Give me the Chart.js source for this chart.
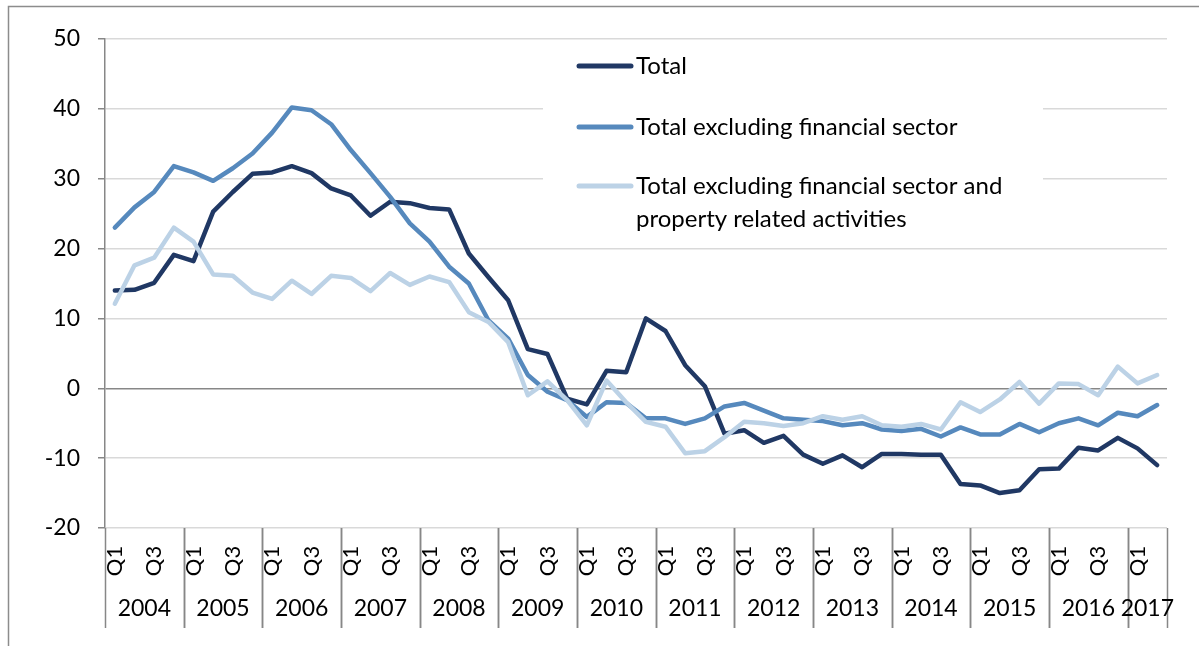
<!DOCTYPE html>
<html>
<head>
<meta charset="utf-8">
<title>Credit growth</title>
<script src="https://cdn.jsdelivr.net/npm/chart.js@4/dist/chart.umd.min.js"></script>
<style>
  html, body { margin: 0; padding: 0; background: #fff; }
  #wrap { width: 1199px; height: 646px; position: relative; }
</style>
</head>
<body>
<div id="wrap"><canvas id="chart" width="1199" height="646"></canvas></div>
<script>
// quarterly series, 2004 Q1 - 2017 Q2
const years = [2004, 2005, 2006, 2007, 2008, 2009, 2010, 2011, 2012, 2013, 2014, 2015, 2016, 2017];
const quarters = ['Q1', 'Q2', 'Q3', 'Q4'];
const shownQuarters = ['Q1', 'Q3'];
const seriesNames = [
  'Total',
  'Total excluding financial sector',
  'Total excluding financial sector and property related activities'
];
const total = [14.0, 14.1, 15.1, 19.1, 18.2, 25.3, 28.1, 30.7, 30.9, 31.8, 30.8, 28.6, 27.6, 24.7,
  26.7, 26.5, 25.8, 25.6, 19.3, 15.9, 12.6, 5.6, 4.9, -1.5, -2.3, 2.5, 2.3, 10.0, 8.2, 3.3, 0.3,
  -6.5, -6.0, -7.8, -6.8, -9.5, -10.8, -9.6, -11.3, -9.4, -9.4, -9.5, -9.5, -13.7, -13.9, -15.0,
  -14.6, -11.6, -11.5, -8.5, -8.9, -7.1, -8.6, -11.0];
const exFinancial = [23.0, 25.9, 28.1, 31.8, 30.9, 29.7, 31.5, 33.6, 36.6, 40.2, 39.8, 37.8, 34.1,
  30.8, 27.4, 23.6, 21.0, 17.4, 15.0, 9.7, 7.1, 1.9, -0.5, -1.7, -4.1, -2.0, -2.1, -4.3, -4.3,
  -5.1, -4.3, -2.6, -2.1, -3.2, -4.3, -4.5, -4.7, -5.3, -5.0, -5.9, -6.1, -5.8, -6.9, -5.6, -6.6,
  -6.6, -5.1, -6.3, -5.0, -4.3, -5.3, -3.5, -4.0, -2.4];
const exFinProperty = [12.1, 17.6, 18.7, 23.0, 21.0, 16.3, 16.1, 13.7, 12.8, 15.4, 13.5, 16.1, 15.8,
  13.9, 16.5, 14.8, 16.0, 15.2, 10.9, 9.5, 6.6, -1.0, 1.0, -1.7, -5.3, 1.1, -2.0, -4.8, -5.5, -9.3,
  -9.0, -7.0, -4.8, -5.0, -5.4, -5.0, -4.0, -4.5, -4.0, -5.3, -5.5, -5.1, -5.9, -2.0, -3.4, -1.6,
  0.9, -2.2, 0.7, 0.6, -1.0, 3.1, 0.7, 1.9];
const colors = ['#203864', '#5689bd', '#bcd2e6'];
const yMin = -20, yMax = 50, yStep = 10;

const FONT = 'Lato, "Open Sans", sans-serif';
const AXIS_GREY = '#878787';
const GRID_GREY = '#d9d9d9';

// one label per quarter
const labels = [];
years.forEach(y => quarters.forEach(q => {
  if (labels.length < total.length) labels.push({ year: y, q: q });
}));

// frame around the whole chart
const framePlugin = {
  id: 'frame',
  beforeDraw(chart) {
    const ctx = chart.ctx;
    ctx.save();
    ctx.fillStyle = '#fff';
    ctx.fillRect(0, 0, chart.width, chart.height);
    ctx.strokeStyle = '#8c8c8c';
    ctx.lineWidth = 1.5;
    ctx.strokeRect(8.5, 6.5, chart.width + 20, chart.height + 20);
    ctx.restore();
  }
};

// two-level category axis: quarters (rotated) and years with separators
const yearAxisPlugin = {
  id: 'yearAxis',
  afterDraw(chart) {
    const ctx = chart.ctx;
    const x = chart.scales.x;
    const bottom = chart.chartArea.bottom;
    const half = (x.getPixelForValue(1) - x.getPixelForValue(0)) / 2;
    ctx.save();

    // quarter labels
    ctx.fillStyle = '#000';
    ctx.font = '22px ' + FONT;
    ctx.textAlign = 'center';
    ctx.textBaseline = 'middle';
    labels.forEach((l, i) => {
      if (!shownQuarters.includes(l.q)) return;
      const px = x.getPixelForValue(i);
      ctx.save();
      ctx.translate(px, bottom + 33);
      ctx.rotate(-Math.PI / 2);
      ctx.fillText(l.q, 0, 0);
      ctx.restore();
    });

    // year separators and labels
    ctx.strokeStyle = AXIS_GREY;
    ctx.lineWidth = 1.5;
    ctx.font = '23px ' + FONT;
    years.forEach(y => {
      const idx = labels.map((l, i) => l.year === y ? i : -1).filter(i => i >= 0);
      if (!idx.length) return;
      const x0 = x.getPixelForValue(idx[0]) - half;
      const x1 = x.getPixelForValue(idx[idx.length - 1]) + half;
      [x0, x1].forEach(sx => {
        ctx.beginPath();
        ctx.moveTo(Math.round(sx) + 0.5, bottom);
        ctx.lineTo(Math.round(sx) + 0.5, bottom + 100);
        ctx.stroke();
      });
      ctx.fillText(String(y), (x0 + x1) / 2, bottom + 81);
    });
    ctx.restore();
  }
};

// legend box sitting over the grid
const legendPlugin = {
  id: 'boxLegend',
  beforeDatasetsDraw(chart) {
    const ctx = chart.ctx;
    ctx.save();
    ctx.fillStyle = '#fff';
    ctx.fillRect(543, 46, 500, 196);
    ctx.font = '24px ' + FONT;
    ctx.textBaseline = 'middle';
    ctx.lineCap = 'round';
    const rows = [66, 127, 186];
    seriesNames.forEach((name, i) => {
      ctx.strokeStyle = colors[i];
      ctx.lineWidth = 5;
      ctx.beginPath();
      ctx.moveTo(579, rows[i]);
      ctx.lineTo(631, rows[i]);
      ctx.stroke();
      ctx.fillStyle = '#000';
      if (i === 2) {
        ctx.fillText('Total excluding financial sector and', 636, rows[i]);
        ctx.fillText('property related activities', 636, rows[i] + 33);
      } else {
        ctx.fillText(name, 636, rows[i]);
      }
    });
    ctx.restore();
  }
};

const series = [total, exFinancial, exFinProperty];

new Chart(document.getElementById('chart'), {
  type: 'line',
  data: {
    labels: labels.map(l => l.year + ' ' + l.q),
    datasets: series.map((d, i) => ({
      label: seriesNames[i],
      data: d,
      borderColor: colors[i],
      backgroundColor: colors[i],
      borderWidth: 4.5,
      pointRadius: 0,
      tension: 0,
      borderJoinStyle: 'round',
      borderCapStyle: 'round',
      order: 3 - i
    }))
  },
  options: {
    responsive: false,
    animation: false,
    layout: { padding: { top: 39, right: 32, left: 0, bottom: 0 } },
    plugins: {
      legend: { display: false },
      tooltip: { enabled: false }
    },
    scales: {
      x: {
        type: 'category',
        offset: true,
        grid: { display: false },
        border: { display: false },
        ticks: { display: false },
        afterFit(scale) { scale.height = 118; }
      },
      y: {
        min: yMin,
        max: yMax,
        ticks: {
          stepSize: yStep,
          color: '#000',
          font: { family: FONT, size: 23 },
          padding: 18
        },
        grid: {
          color: ctx => ctx.tick && ctx.tick.value === 0 ? AXIS_GREY : GRID_GREY,
          lineWidth: 1.5,
          tickLength: 7,
          tickColor: AXIS_GREY
        },
        border: { color: AXIS_GREY, width: 1.5 },
        afterFit(scale) { scale.width = 105; }
      }
    }
  },
  plugins: [framePlugin, legendPlugin, yearAxisPlugin]
});
</script>
</body>
</html>
